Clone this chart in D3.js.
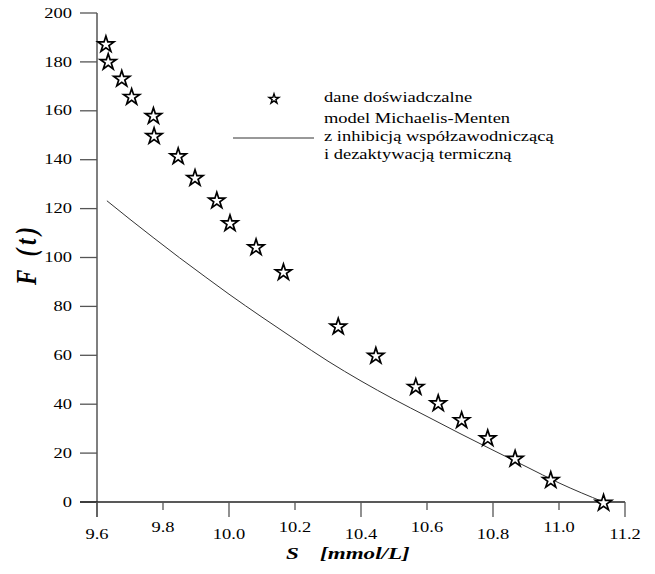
<!DOCTYPE html>
<html>
<head>
<meta charset="utf-8">
<script src="https://cdn.jsdelivr.net/npm/d3@7"></script>
<style>
  html, body { margin: 0; padding: 0; background: #fff; }
  svg { display: block; }
</style>
</head>
<body>
<svg id="chart" width="655" height="574"></svg>
<script>
// ---- data ----
const expS = [9.627, 9.634, 9.675, 9.705, 9.771, 9.773, 9.846, 9.897, 9.963, 10.003, 10.082, 10.165, 10.331, 10.445, 10.566, 10.634, 10.705, 10.784, 10.867, 10.975, 11.135];
const expF = [187.5, 180.3, 173.4, 166.0, 158.2, 150.0, 141.7, 132.8, 123.6, 114.3, 104.5, 94.3, 72.1, 60.1, 47.4, 40.7, 33.8, 26.4, 18.0, 9.3, 0.0];
const modelS = [9.63, 9.70, 9.77, 9.85, 9.93, 10.0, 10.1, 10.2, 10.3, 10.4, 10.5, 10.6, 10.7, 10.8, 10.9, 11.0, 11.135];
const modelF = [123.2, 115.6, 108.2, 99.9, 91.9, 85.0, 75.6, 66.5, 57.6, 49.5, 42.0, 35.0, 28.0, 21.2, 14.5, 7.8, 0.0];
const xTicks = [9.6, 9.8, 10.0, 10.2, 10.4, 10.6, 10.8, 11.0, 11.2];
const yTicks = [0, 20, 40, 60, 80, 100, 120, 140, 160, 180, 200];
const legendLabels = ["dane doświadczalne", "model Michaelis-Menten", "z inhibicją współzawodniczącą", "i dezaktywacją termiczną"];
const xTitle = ["S", "[mmol/L]"];
const yTitle = "F (t)";

// ---- layout ----
const FONT = "'Liberation Serif', 'Times New Roman', Times, 'DejaVu Serif', serif";
const svg = d3.select("#chart");
const SX = 1.32; // horizontal stretch of the original
const x = d3.scaleLinear().domain([9.6, 11.2]).range([97, 625]);
const y = d3.scaleLinear().domain([0, 200]).range([502, 13]);
const axisColor = "#555";

function stretchedText(g, tx, ty, str, opts) {
  const t = g.append("g").attr("transform", `translate(${tx},${ty}) scale(${SX},1)`)
    .append("text").text(str)
    .attr("text-anchor", opts.anchor || "start")
    .attr("font-family", FONT)
    .attr("font-size", opts.size)
    .attr("fill", "#000");
  if (opts.weight) t.attr("font-weight", opts.weight);
  if (opts.style) t.attr("font-style", opts.style);
  if (opts.dy) t.attr("dy", opts.dy);
  return t;
}

// y axis
const yAxis = svg.append("g");
yAxis.append("line").attr("x1", x(9.6)).attr("x2", x(9.6))
  .attr("y1", y(200)).attr("y2", 517)
  .attr("stroke", axisColor).attr("stroke-width", 1.5);
yTicks.forEach(v => {
  yAxis.append("line").attr("x1", 80).attr("x2", x(9.6))
    .attr("y1", y(v)).attr("y2", y(v))
    .attr("stroke", axisColor).attr("stroke-width", 1.3);
  stretchedText(yAxis, 72, y(v), d3.format("d")(v), {size: 14, anchor: "end", dy: "0.33em"});
});

// x axis
const xAxis = svg.append("g");
xAxis.append("line").attr("x1", 80).attr("x2", x(11.2))
  .attr("y1", y(0)).attr("y2", y(0))
  .attr("stroke", "#222").attr("stroke-width", 1.5);
xTicks.forEach((v, i) => {
  const longTick = i % 2 === 0;
  xAxis.append("line").attr("x1", x(v)).attr("x2", x(v))
    .attr("y1", y(0)).attr("y2", longTick ? 517 : 510)
    .attr("stroke", axisColor).attr("stroke-width", 1.3);
  stretchedText(xAxis, x(v), longTick ? 539 : 531.5, d3.format(".1f")(v), {size: 14, anchor: "middle"});
});

// model line
const modelData = modelS.map((s, i) => [s, modelF[i]]);
svg.append("path").datum(modelData)
  .attr("d", d3.line().x(d => x(d[0])).y(d => y(d[1])).curve(d3.curveMonotoneX))
  .attr("fill", "none").attr("stroke", "#333").attr("stroke-width", 1);

// experimental stars
const star = d3.symbol().type(d3.symbolStar);
svg.append("g").selectAll("path")
  .data(expS.map((s, i) => [s, expF[i]]))
  .join("path")
  .attr("transform", d => `translate(${x(d[0])},${y(d[1]) + 1})`)
  .attr("d", star.size(80)())
  .attr("fill", "#fff").attr("stroke", "#000").attr("stroke-width", 1.7)
  .attr("stroke-linejoin", "miter");

// legend
const lg = svg.append("g");
lg.append("path").attr("transform", "translate(274,99)")
  .attr("d", star.size(30)())
  .attr("fill", "#fff").attr("stroke", "#000").attr("stroke-width", 1.4);
lg.append("line").attr("x1", 233).attr("x2", 314).attr("y1", 138).attr("y2", 138)
  .attr("stroke", "#333").attr("stroke-width", 1);
const legendY = [102, 123, 141, 159];
legendLabels.forEach((t, i) => stretchedText(lg, 324, legendY[i], t, {size: 14}));

// axis titles
stretchedText(svg, 286, 559, xTitle[0], {size: 17.5, weight: "bold", style: "italic"});
stretchedText(svg, 320, 559, xTitle[1], {size: 17.5, weight: "bold", style: "italic"});

svg.append("g").attr("transform", `translate(36,256) scale(${SX},1) rotate(-90)`)
  .append("text").text(yTitle)
  .attr("text-anchor", "middle")
  .attr("font-family", FONT)
  .attr("font-size", 23).attr("font-weight", "bold").attr("font-style", "italic")
  .attr("textLength", 58).attr("lengthAdjust", "spacing");
</script>
</body>
</html>
